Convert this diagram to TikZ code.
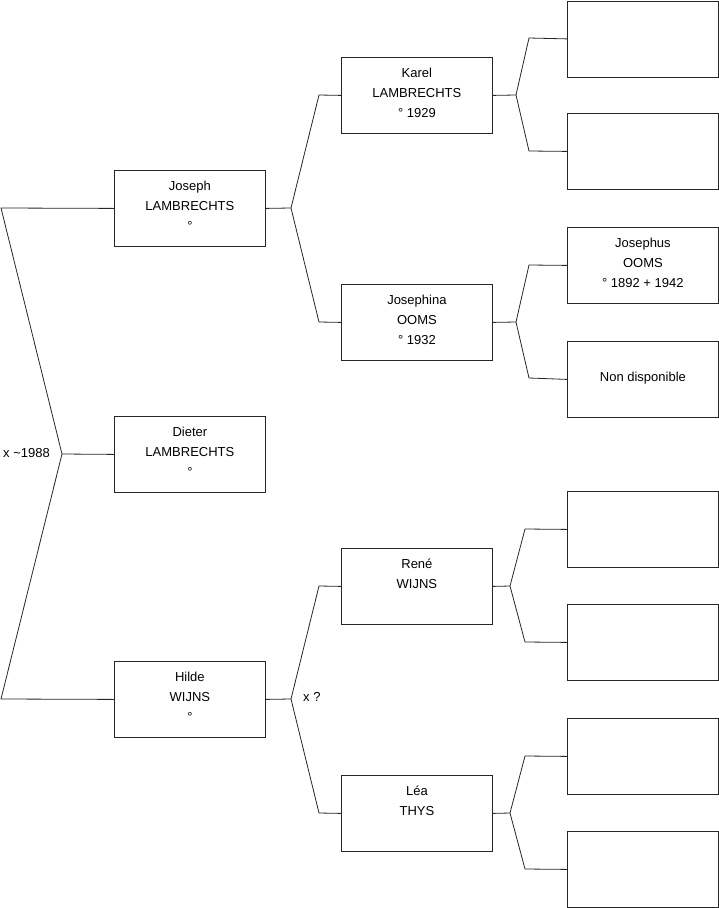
\documentclass[tikz,border=0pt]{standalone}
\usepackage{fontspec}
\setmainfont{Liberation Sans}
\usepackage{tikz}
\usetikzlibrary{positioning}
\newcommand{\famtext}[1]{\parbox[t][76pt][t]{151pt}{\centering\rule{0pt}{20.5pt}#1}}

\begin{document}
\begin{tikzpicture}[
      x=1pt, y=-1pt,
      every node/.style={font=\fontsize{13}{20}\selectfont},
      personbox/.style={
        draw=black!85,
        line width=0.8pt,
        rectangle,
        inner sep=0pt,
        minimum width=151pt,
        minimum height=76pt,
        anchor=north west
      },
      link/.style={draw=black!85, line width=0.8pt},
      unionlabel/.style={anchor=west, inner sep=0pt},
  ]
        \useasboundingbox (0,0) rectangle (719,908);

        % 1. Generation 1
        \node[personbox] (joseph) at (114,170) {\famtext{Joseph\\LAMBRECHTS\\°}};
        \node[personbox] (dieter) at (114,416) {\famtext{Dieter\\LAMBRECHTS\\°}};
        \node[personbox] (hilde)  at (114,661) {\famtext{Hilde\\WIJNS\\°}};

        % 2. Generation 2
        \node[personbox] (karel)     at (341,57)  {\famtext{Karel\\LAMBRECHTS\\° 1929}};
        \node[personbox] (josephina) at (341,284) {\famtext{Josephina\\OOMS\\° 1932}};
        \node[personbox] (rene)      at (341,548) {\famtext{René\\WIJNS}};
        \node[personbox] (lea)       at (341,775) {\famtext{Léa\\THYS}};

        % 3. Generation 3
        \node[personbox] (kfather)  at (567,0.5) {\famtext{}};
        \node[personbox] (kmother)  at (567,113) {\famtext{}};
        \node[personbox] (josephus) at (567,227) {\famtext{Josephus\\OOMS\\° 1892 + 1942}};
        \node[personbox] (nondisp)  at (567,341) {\famtext{\mbox{}\\Non disponible}};
        \node[personbox] (rfather)  at (567,491) {\famtext{}};
        \node[personbox] (rmother)  at (567,604) {\famtext{}};
        \node[personbox] (lfather)  at (567,718) {\famtext{}};
        \node[personbox] (lmother)  at (567,831) {\famtext{}};

        % fork points
        \coordinate (froot) at (62,454);
        \coordinate (rtop)  at (1,208);
        \coordinate (rbot)  at (1,699);
        \coordinate (fjos)  at (291,208);
        \coordinate (bjos1) at (319,95);
        \coordinate (bjos2) at (319,322);
        \coordinate (fhil)  at (291,699);
        \coordinate (bhil1) at (319,586);
        \coordinate (bhil2) at (319,813);
        \coordinate (fkar)  at (516,95);
        \coordinate (bkar1) at (529,38);
        \coordinate (bkar2) at (529,151);
        \coordinate (fjph)  at (516,322);
        \coordinate (bjph1) at (529,265);
        \coordinate (bjph2) at (529,378);
        \coordinate (fren)  at (510,586);
        \coordinate (bren1) at (525,529);
        \coordinate (bren2) at (525,642);
        \coordinate (flea)  at (510,813);
        \coordinate (blea1) at (525,756);
        \coordinate (blea2) at (525,869);

        % parents of Dieter
        \draw[link] (joseph.west) -- (rtop) -- (froot) -- (rbot) -- (hilde.west);
        \draw[link] (dieter.west) -- (froot);
        \node[unionlabel] (mroot) at (3,453) {x \textasciitilde1988};

        % parents of Joseph
        \draw[link] (joseph.east) -- (fjos);
        \draw[link] (karel.west) -- (bjos1) -- (fjos) -- (bjos2) -- (josephina.west);

        % parents of Hilde
        \draw[link] (hilde.east) -- (fhil);
        \draw[link] (rene.west) -- (bhil1) -- (fhil) -- (bhil2) -- (lea.west);
        \node[unionlabel] (mhil) at (303,697) {x ?};

        % parents of Karel
        \draw[link] (karel.east) -- (fkar);
        \draw[link] (kfather.west) -- (bkar1) -- (fkar) -- (bkar2) -- (kmother.west);

        % parents of Josephina
        \draw[link] (josephina.east) -- (fjph);
        \draw[link] (josephus.west) -- (bjph1) -- (fjph) -- (bjph2) -- (nondisp.west);

        % parents of René
        \draw[link] (rene.east) -- (fren);
        \draw[link] (rfather.west) -- (bren1) -- (fren) -- (bren2) -- (rmother.west);

        % parents of Léa
        \draw[link] (lea.east) -- (flea);
        \draw[link] (lfather.west) -- (blea1) -- (flea) -- (blea2) -- (lmother.west);
  \end{tikzpicture}
\end{document}
